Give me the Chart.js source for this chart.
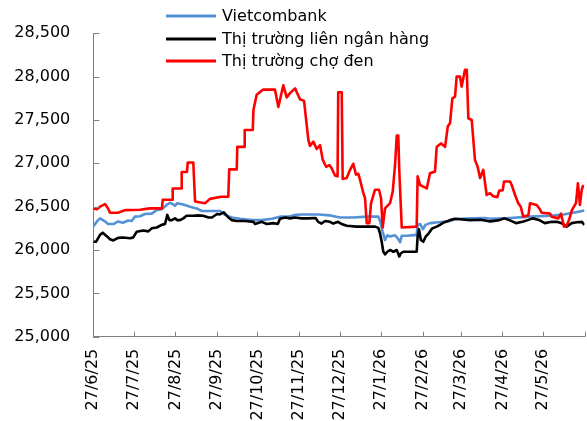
<!DOCTYPE html>
<html>
<head>
<meta charset="utf-8">
<script src="https://cdn.jsdelivr.net/npm/chart.js@4/dist/chart.umd.min.js"></script>
<style>
html,body{margin:0;padding:0;background:#fff;}
#wrap{width:587px;height:421px;position:relative;}
</style>
</head>
<body>
<div id="wrap"><canvas id="c" width="587" height="421"></canvas></div>
<script>
// Series names
const seriesNames = ['Vietcombank', 'Thị trường liên ngân hàng', 'Thị trường chợ đen'];

// X tick positions (days since 27/6/25) and labels
const xTickDays = [0, 30, 61, 92, 122, 153, 183, 214, 245, 273, 304, 334, 365];
const xTickLabels = ['27/6/25','27/7/25','27/8/25','27/9/25','27/10/25','27/11/25','27/12/25','27/1/26','27/2/26','27/3/26','27/4/26','27/5/26',''];

// Vietcombank (days since 27/6/25, VND/USD)
const vcbDays = [0,2.7,5,8.7,11,15,18.4,22,26,28.5,31,34.7,38.4,43.4,47.1,50.8,54.5,57,59,60.7,62.4,66.9,71.9,76.8,80.6,88,94.2,97.9,102.8,109,117.7,125.2,132.6,138.7,144.9,149.9,154.8,168,175.4,183.3,193.2,203.2,211.8,213,215,216.8,218.5,220.5,224.2,226,228,229.2,233,240.3,241,242.8,245,246.8,250.2,256.4,263.8,268.8,273.7,281.2,291,295,309.7,324.5,339.4,349.3,356.7,365];
const vcbValues = [26270,26330,26365,26330,26300,26300,26330,26315,26340,26335,26385,26390,26415,26420,26460,26470,26520,26545,26530,26510,26540,26525,26500,26480,26450,26450,26450,26405,26375,26360,26345,26345,26360,26385,26385,26405,26410,26410,26400,26375,26375,26385,26385,26340,26210,26115,26170,26155,26170,26140,26090,26165,26165,26175,26290,26300,26240,26290,26310,26320,26330,26355,26360,26365,26370,26360,26370,26385,26395,26410,26430,26455];

// Interbank market
const ibDays = [0,2,5,7,10,12.4,14.9,18.4,22.3,27.3,29.7,32.2,37.1,40.9,43.4,47.1,50.8,53.3,55,56.5,58.3,60.7,62.4,64.4,66.9,69.3,74.3,78,81.6,85.7,88.1,92,94,97,100.4,102.8,106.6,112.8,119,120.2,125.2,128.9,133.9,137.1,138.7,142.5,146.2,149.9,154.8,159.8,165.2,167.1,169.6,172.2,175.9,178.3,181.9,184.6,188.3,195.7,203.2,209.3,211.8,213,214.3,215.5,216.8,218.5,220.5,223,225.5,227.4,228.4,230.4,240.3,241,242,243.4,245.2,247,249.4,251.9,255.2,257.6,260.1,265.1,268.8,272.5,280,288,295,301.7,305.4,309.2,314.1,319,322.8,326.5,331.4,335.5,340.6,344.4,348,351.7,355.5,359.3,363,365];
const ibValues = [26095,26095,26175,26200,26160,26125,26110,26140,26145,26135,26145,26210,26225,26215,26250,26260,26290,26300,26405,26345,26345,26365,26345,26345,26365,26395,26395,26400,26395,26375,26375,26415,26410,26435,26375,26345,26335,26335,26325,26300,26325,26300,26310,26300,26360,26375,26365,26375,26365,26365,26370,26325,26305,26335,26325,26305,26325,26300,26280,26270,26270,26270,26255,26195,26095,25980,25950,25980,26000,25980,26000,25925,25960,25980,25980,26155,26240,26115,26095,26155,26195,26250,26270,26290,26315,26345,26360,26355,26345,26350,26330,26345,26365,26345,26310,26325,26345,26365,26345,26310,26325,26325,26310,26270,26310,26320,26325,26290];

// Black market
const bmDays = [0,2.7,5,8.7,11,12.4,18.4,23.6,34.7,42,51,51.6,58.5,59,65.2,65.7,69.6,70.2,74.3,75.6,83,86.7,95,100.3,101,106.6,107,112,112.5,118.5,119,121.4,126,135,137.5,141.2,143.7,146.2,149.9,153.6,156.6,159.8,161,163.5,166,168.5,170.5,173,175.4,177.2,179.6,181.5,182,184.6,185.3,188.3,190.8,193.2,195.2,196.9,198.2,200.6,201.9,203.2,205.1,206.4,209.3,212.3,213.8,215,216.8,220.5,222.5,224.2,225.5,226.6,227.4,229.2,240.3,241,242.8,247.8,250.2,253.9,255.2,258.4,261.4,263.4,265.1,266.8,268.8,270,272.5,273.7,274.9,276.2,277.5,278.7,281.2,283.6,285.6,287.4,289.8,292.3,294.8,297.2,300.2,301.7,304.2,305.2,309.7,310.9,313.4,315.8,317.6,319.5,323.3,324.5,329.5,331.4,333.2,339.4,340.6,345.5,347.5,349.8,351.7,353.7,355.5,358.7,360.1,361.6,362.9,364.1];
const bmValues = [26480,26470,26500,26530,26480,26430,26430,26460,26465,26480,26480,26580,26580,26710,26710,26900,26900,27010,27010,26560,26540,26590,26615,26615,26930,26930,27190,27190,27385,27385,27615,27790,27850,27850,27650,27900,27760,27810,27865,27740,27720,27270,27200,27250,27165,27210,27040,26960,26980,26940,26860,26850,27820,27820,26820,26830,26925,26995,26870,26880,26810,26660,26600,26310,26310,26540,26695,26695,26600,26260,26480,26540,26675,26980,27320,27320,26905,26260,26270,26850,26750,26710,26885,26905,27190,27230,27190,27425,27465,27750,27770,28000,28000,27885,27980,28080,28080,27520,27500,27040,26960,26830,26925,26635,26655,26620,26610,26685,26690,26790,26790,26750,26635,26540,26500,26385,26400,26540,26520,26480,26430,26420,26385,26365,26420,26270,26280,26355,26455,26545,26770,26520,26690,26750];

// Y axis range
const yMin = 25000, yMax = 28500, yStep = 500;

const colors = ['#5591D6', '#000000', '#FF0000'];
const FONT = '"DejaVu Sans", Verdana, sans-serif';

function pts(days, vals){ return days.map((d,i)=>({x:d, y:vals[i]})); }

const insideTicks = {
  id: 'insideTicks',
  afterDraw(chart){
    const {ctx, chartArea, scales} = chart;
    ctx.save();
    ctx.strokeStyle = '#808080';
    ctx.lineWidth = 1;
    ctx.beginPath();
    scales.y.ticks.forEach(t=>{
      const py = Math.round(scales.y.getPixelForValue(t.value)) + 0.5;
      ctx.moveTo(chartArea.left, py); ctx.lineTo(chartArea.left + 6, py);
    });
    scales.x.ticks.forEach(t=>{
      const px = Math.round(scales.x.getPixelForValue(t.value)) + 0.5;
      ctx.moveTo(px, chartArea.bottom); ctx.lineTo(px, chartArea.bottom - 5);
    });
    ctx.stroke();
    // legend
    ctx.font = '16px ' + FONT;
    ctx.textBaseline = 'middle';
    ctx.textAlign = 'left';
    const rows = [16, 39, 61];
    seriesNames.forEach((n,i)=>{
      ctx.strokeStyle = colors[i];
      ctx.lineWidth = 3;
      ctx.beginPath();
      ctx.moveTo(166, rows[i]); ctx.lineTo(216, rows[i]);
      ctx.stroke();
      ctx.fillStyle = '#000';
      ctx.fillText(n, 222, rows[i] + 1);
    });
    ctx.restore();
  }
};

new Chart(document.getElementById('c'), {
  type: 'line',
  data: {
    datasets: [
      {label: seriesNames[0], data: pts(vcbDays, vcbValues), borderColor: colors[0], borderWidth: 2.6, order: 3},
      {label: seriesNames[1], data: pts(ibDays, ibValues), borderColor: colors[1], borderWidth: 2.6, order: 2},
      {label: seriesNames[2], data: pts(bmDays, bmValues), borderColor: colors[2], borderWidth: 2.6, order: 1}
    ]
  },
  options: {
    responsive: false,
    animation: false,
    elements: {point: {radius: 0}, line: {tension: 0, borderJoinStyle: 'round', fill: false}},
    layout: {padding: {left: 0, right: 2.5, top: 33.3, bottom: 0}},
    plugins: {legend: {display: false}, tooltip: {enabled: false}},
    scales: {
      x: {
        type: 'linear',
        min: 0, max: 365,
        grid: {display: false, drawTicks: false},
        border: {display: true, color: '#808080', width: 1},
        afterBuildTicks(scale){ scale.ticks = xTickDays.map(v=>({value: v})); },
        afterFit(scale){ scale.height = 84.3; scale.paddingLeft = 0; scale.paddingRight = 0; },
        ticks: {
          autoSkip: false, maxRotation: 90, minRotation: 90, padding: 12,
          color: '#000', font: {family: FONT, size: 16},
          callback(value){ const i = xTickDays.indexOf(value); return i >= 0 ? xTickLabels[i] : ''; }
        }
      },
      y: {
        min: yMin, max: yMax,
        grid: {display: false, drawTicks: false},
        border: {display: true, color: '#808080', width: 1},
        afterFit(scale){ scale.width = 93.3; scale.paddingTop = 0; scale.paddingBottom = 0; },
        ticks: {
          stepSize: yStep, padding: 23, color: '#000', font: {family: FONT, size: 16},
          callback(v){ return v.toLocaleString('en-US'); }
        }
      }
    }
  },
  plugins: [insideTicks]
});
</script>
</body>
</html>
